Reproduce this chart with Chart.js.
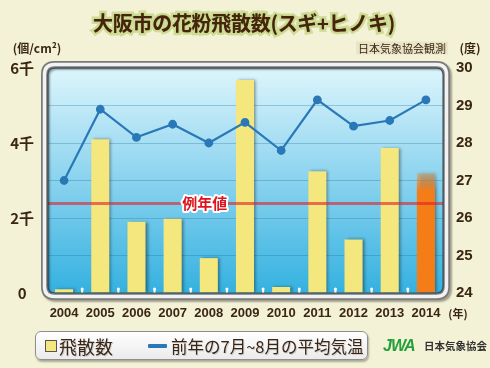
<!DOCTYPE html>
<html><head><meta charset="utf-8">
<script src="https://cdn.jsdelivr.net/npm/chart.js@4.4.1/dist/chart.umd.min.js"></script>
<style>
html,body{margin:0;padding:0;background:#f4f2d6;}
#wrap{position:relative;width:490px;height:368px;overflow:hidden;background:#f4f2d6;font-family:"Noto Sans CJK JP","Noto Sans",sans-serif;color:#3b2616;}
#c{position:absolute;left:0;top:0;}
.t{position:absolute;white-space:nowrap;line-height:1;}
#title{left:244px;top:23px;transform:translate(-50%,-50%);font-size:20px;font-weight:bold;color:#45230c;
 -webkit-text-stroke:5px #cfdc96;paint-order:stroke fill;text-shadow:0 0 1px #8fa050;letter-spacing:-0.3px;}
#legend{position:absolute;left:35px;top:331px;width:331px;height:27px;border:1.5px solid #8e8e8e;border-radius:6px;
 background:linear-gradient(#ffffff,#ebebeb);box-shadow:1px 2px 2px rgba(0,0,0,0.3);}
</style></head>
<body><div id="wrap">
<canvas id="c" width="490" height="368"></canvas>
<div class="t" id="title">大阪市の花粉飛散数(スギ+ヒノキ)</div>
<div class="t" style="left:37px;top:48px;transform:translate(-50%,-50%);font-size:12px;font-weight:bold;">(個/cm²)</div>
<div class="t" style="left:402px;top:48px;transform:translate(-50%,-50%);font-size:11px;background:#e9e5c6;padding:1px 2px;">日本気象協会観測</div>
<div class="t" style="left:470px;top:48px;transform:translate(-50%,-50%);font-size:12px;font-weight:bold;">(度)</div>
<div class="t" style="left:458px;top:313px;transform:translate(-50%,-50%);font-size:11px;font-weight:bold;">(年)</div>
<div id="legend"></div>
<div style="position:absolute;left:45px;top:340px;width:10px;height:10px;background:#f3e77d;border:1px solid #555;"></div>
<div class="t" style="left:59px;top:346px;transform:translateY(-50%);font-size:18px;text-shadow:1px 1px 0 rgba(0,0,0,0.15);">飛散数</div>
<div style="position:absolute;left:148px;top:344px;width:19px;height:4px;background:#2a78b8;border-radius:1px;"></div>
<div class="t" style="left:171px;top:346px;transform:translateY(-50%);font-size:16.5px;text-shadow:1px 1px 0 rgba(0,0,0,0.15);">前年の7月~8月の平均気温</div>
<div class="t" style="left:383px;top:346px;transform:translateY(-50%);font-family:'Liberation Sans',sans-serif;font-size:16px;font-weight:bold;font-style:italic;color:#22a03a;letter-spacing:-1px;">JWA</div>
<div class="t" style="left:424px;top:346px;transform:translateY(-50%);font-size:10.5px;font-weight:bold;color:#333;">日本気象協会</div>
</div>
<script>
const years = ['2004','2005','2006','2007','2008','2009','2010','2011','2012','2013','2014'];
const pollen = [100, 4100, 1900, 1980, 930, 5680, 160, 3250, 1430, 3870, 3200];
const temperature = [27.0, 28.9, 28.15, 28.5, 28.0, 28.55, 27.8, 29.15, 28.45, 28.6, 29.15];
const averagePollen = 2390;
const averageLabel = '例年値';
const highlightIndex = 10;
const pollenTicks = {min:0, max:6000, step:1000};
const tempTicks = {min:24, max:30, step:1};

Chart.defaults.font.family = '"Noto Sans CJK JP","Noto Sans",sans-serif';
Chart.defaults.color = '#3b2616';

function rrect(ctx,x,y,w,h,r){
  ctx.beginPath();
  ctx.moveTo(x+r,y);ctx.lineTo(x+w-r,y);ctx.quadraticCurveTo(x+w,y,x+w,y+r);
  ctx.lineTo(x+w,y+h-r);ctx.quadraticCurveTo(x+w,y+h,x+w-r,y+h);
  ctx.lineTo(x+r,y+h);ctx.quadraticCurveTo(x,y+h,x,y+h-r);
  ctx.lineTo(x,y+r);ctx.quadraticCurveTo(x,y,x+r,y);ctx.closePath();
}

const decor = {
  id:'decor',
  beforeDraw(chart){
    const {ctx, chartArea:a} = chart;
    ctx.save();
    rrect(ctx,a.left-2,a.top-3,a.right-a.left+4,a.bottom-a.top+6,9);
    const g = ctx.createLinearGradient(0,a.top,0,a.bottom);
    g.addColorStop(0,'#ddf5fc');g.addColorStop(0.45,'#92d6f0');g.addColorStop(1,'#34b1e0');
    ctx.fillStyle=g;ctx.fill();
    ctx.restore();
  },
  beforeDatasetDraw(chart,args){
    if(chart.data.datasets[args.index].type==='bar'){
      const ctx=chart.ctx;ctx.save();
      ctx.shadowColor='rgba(0,0,0,0.4)';ctx.shadowOffsetX=2;ctx.shadowOffsetY=0;ctx.shadowBlur=3;
    }
  },
  afterDatasetDraw(chart,args){
    if(chart.data.datasets[args.index].type==='bar'){
      const ctx=chart.ctx;ctx.restore();
      const a=chart.chartArea;
      const y=chart.scales.y.getPixelForValue(averagePollen);
      ctx.save();
      ctx.strokeStyle='rgba(225,30,40,0.6)';ctx.lineWidth=3;
      ctx.beginPath();ctx.moveTo(a.left,y);ctx.lineTo(a.right,y);ctx.stroke();
      ctx.restore();
    }
  },
  afterDraw(chart){
    const {ctx, chartArea:a} = chart;
    const xs=chart.scales.x;
    ctx.save();
    ctx.fillStyle='#ffffff';
    for(let i=0;i<years.length-1;i++){
      const x=(xs.getPixelForTick(i)+xs.getPixelForTick(i+1))/2;
      ctx.fillRect(x-1,a.bottom-4,2,5);
      ctx.beginPath();ctx.arc(x,a.bottom-4,1.5,0,Math.PI*2);ctx.fill();
    }
    const y=chart.scales.y.getPixelForValue(averagePollen);
    const lx=xs.getPixelForTick(4)-4;
    ctx.font='bold 15px "Noto Sans CJK JP"';ctx.textAlign='center';ctx.textBaseline='middle';
    ctx.lineJoin='round';ctx.strokeStyle='#ffffff';ctx.lineWidth=4;ctx.strokeText(averageLabel,lx,y);
    ctx.fillStyle='#e0141e';ctx.fillText(averageLabel,lx,y);
    const x0=a.left-1.5,y0=a.top-3.5,w=a.right-a.left+4,h=a.bottom-a.top+7;
    ctx.shadowColor='rgba(0,0,0,0.35)';ctx.shadowOffsetX=2;ctx.shadowOffsetY=2;ctx.shadowBlur=2;
    rrect(ctx,x0,y0,w,h,10);ctx.strokeStyle='#7a7a7a';ctx.lineWidth=7;ctx.stroke();
    ctx.shadowColor='transparent';
    rrect(ctx,x0,y0,w,h,10);ctx.strokeStyle='#f2f2f2';ctx.lineWidth=3.5;ctx.stroke();
    rrect(ctx,x0+3.5,y0+3.5,w-7,h-7,7);ctx.strokeStyle='rgba(40,60,70,0.8)';ctx.lineWidth=1.2;ctx.stroke();
    ctx.restore();
  }
};

new Chart(document.getElementById('c'),{
  data:{
    labels:years,
    datasets:[
      {type:'line',label:'前年の7月~8月の平均気温',data:temperature,yAxisID:'y2',order:1,
       borderColor:'#2a78b8',backgroundColor:'#2a78b8',borderWidth:2.2,pointRadius:3.3,pointHoverRadius:3.3,tension:0},
      {type:'bar',label:'飛散数',data:pollen,yAxisID:'y',order:2,
       barPercentage:0.5,categoryPercentage:1,
       backgroundColor:(c)=>{
         if(c.dataIndex!==highlightIndex) return '#f3e77d';
         const ch=c.chart; if(!ch.chartArea) return '#f57f1c';
         const y=ch.scales.y.getPixelForValue(pollen[highlightIndex]);
         const g=ch.ctx.createLinearGradient(0,y,0,y+18);
         g.addColorStop(0,'rgba(240,140,50,0.35)');g.addColorStop(1,'#f57d18');
         return g;
       }}
    ]
  },
  options:{
    responsive:false,animation:false,
    layout:{padding:{top:68,left:0,right:0,bottom:0}},
    plugins:{legend:{display:false},tooltip:{enabled:false}},
    scales:{
      x:{offset:true,grid:{display:false},border:{display:false},
         ticks:{autoSkip:false,maxRotation:0,padding:5,color:'#3b2616',font:{family:'"Liberation Sans"',size:13,weight:'bold'}},
         afterFit(s){s.height=75;}},
      y:{position:'left',min:pollenTicks.min,max:pollenTicks.max,
         grid:{color:'rgba(30,110,150,0.3)',lineWidth:1,drawTicks:false},border:{display:false},
         ticks:{stepSize:pollenTicks.step,padding:12,crossAlign:'center',color:'#3b2616',font:{size:15,weight:'bold'},
           callback:(v)=> v%2000!==0 ? '' : (v===0 ? '0' : (v/1000)+'千')},
         afterFit(s){s.width=46;}},
      y2:{position:'right',min:tempTicks.min,max:tempTicks.max,
         grid:{display:false,drawTicks:false},border:{display:false},
         ticks:{stepSize:tempTicks.step,padding:12,color:'#3b2616',font:{family:'"Liberation Sans"',size:15,weight:'bold'}},
         afterFit(s){s.width=46;}}
    }
  },
  plugins:[decor]
});
</script>
</body></html>
